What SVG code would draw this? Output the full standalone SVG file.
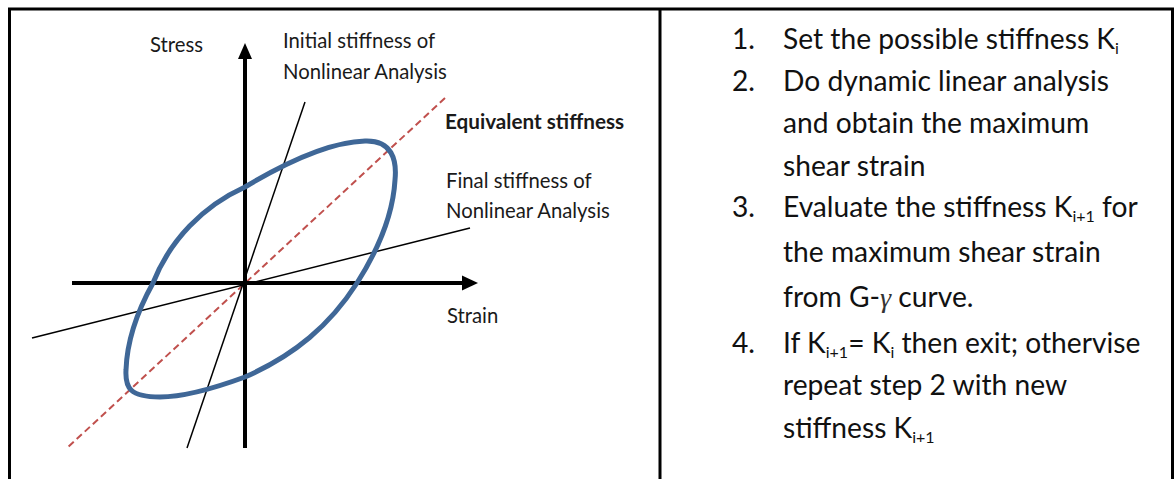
<svg xmlns="http://www.w3.org/2000/svg" width="1174" height="479" viewBox="0 0 1174 479">
  <style>
    .frame { stroke: #000; stroke-width: 3; fill: none; }
    .axis { stroke: #000; stroke-width: 4; fill: none; }
    .stiff { stroke: #000; stroke-width: 1.5; fill: none; }
    .equiv { stroke: #c0504d; stroke-width: 2; stroke-dasharray: 7 4; fill: none; }
    .loop { stroke: #3f6797; stroke-width: 5; fill: none; }
    .lbl { font-family: Lato, "Liberation Sans", sans-serif; font-size: 20.3px; fill: #1a1a1a; }
    .bold { font-weight: bold; font-size: 20.7px; }
    .step { font-family: Lato, "Liberation Sans", sans-serif; font-size: 28.2px; fill: #111; }
    .sub { font-size: 16px; }
    .gam { font-family: "Liberation Serif", serif; font-style: italic; fill: #333; }
  </style>
  <rect width="1174" height="479" fill="#fff"/>
  <g id="frame">
    <line class="frame" x1="8" y1="9" x2="1174" y2="9"/>
    <line class="frame" x1="9.5" y1="9" x2="9.5" y2="479"/>
    <line class="frame" x1="660" y1="9" x2="660" y2="479"/>
    <line class="frame" x1="1172.5" y1="9" x2="1172.5" y2="479"/>
  </g>
  <g id="connectors">
    <line class="equiv" x1="445" y1="98" x2="66" y2="449"/>
    <line class="stiff" x1="305" y1="102" x2="187" y2="448"/>
    <line class="stiff" x1="470" y1="228" x2="32" y2="338"/>
    <line class="axis" x1="245" y1="448" x2="245" y2="57"/>
    <polygon points="245,43 238,59 252,59" fill="#000"/>
    <line class="axis" x1="72" y1="283" x2="464" y2="283"/>
    <polygon points="478,283 462,275.5 462,290.5" fill="#000"/>
  </g>
  <g id="loop">
    <path class="loop" d="M245,187 C285,163 330,142 365,141 C392,140 397,160 395,180 C393,215 378,250 357,283 C330,325 295,355 245,377 C215,388 185,397 160,397 C130,397 125,388 126,370 C127,340 138,310 153,283 C170,240 203,206 245,187 Z"/>
  </g>
  <g id="label-stress"><text class="lbl" x="150" y="52">Stress</text></g>
  <g id="label-initial">
    <text class="lbl" x="283" y="48">Initial stiffness of</text>
    <text class="lbl" x="283" y="79">Nonlinear Analysis</text>
  </g>
  <g id="label-equivalent"><text class="lbl bold" x="445" y="129">Equivalent stiffness</text></g>
  <g id="label-final">
    <text class="lbl" x="446" y="188">Final stiffness of</text>
    <text class="lbl" x="446" y="218">Nonlinear Analysis</text>
  </g>
  <g id="label-strain"><text class="lbl" x="447" y="323">Strain</text></g>
  <g id="steps">
    <text class="step" x="732" y="49">1.</text>
    <text class="step" x="783" y="49">Set the possible stiffness K<tspan class="sub" dy="5">i</tspan></text>
    <text class="step" x="732" y="91">2.</text>
    <text class="step" x="783" y="91">Do dynamic linear analysis</text>
    <text class="step" x="783" y="133">and obtain the maximum</text>
    <text class="step" x="783" y="176">shear strain</text>
    <text class="step" x="732" y="217">3.</text>
    <text class="step" x="783" y="217">Evaluate the stiffness K<tspan class="sub" dy="5">i+1</tspan><tspan dy="-5"> for</tspan></text>
    <text class="step" x="783" y="262">the maximum shear strain</text>
    <text class="step" x="783" y="307">from G-<tspan class="gam">γ</tspan> curve.</text>
    <text class="step" x="732" y="353">4.</text>
    <text class="step" x="783" y="353">If K<tspan class="sub" dy="5">i+1</tspan><tspan dy="-5">= K</tspan><tspan class="sub" dy="5">i</tspan><tspan dy="-5"> then exit; othervise</tspan></text>
    <text class="step" x="783" y="395">repeat step 2 with new</text>
    <text class="step" x="783" y="438">stiffness K<tspan class="sub" dy="5">i+1</tspan></text>
  </g>
</svg>
